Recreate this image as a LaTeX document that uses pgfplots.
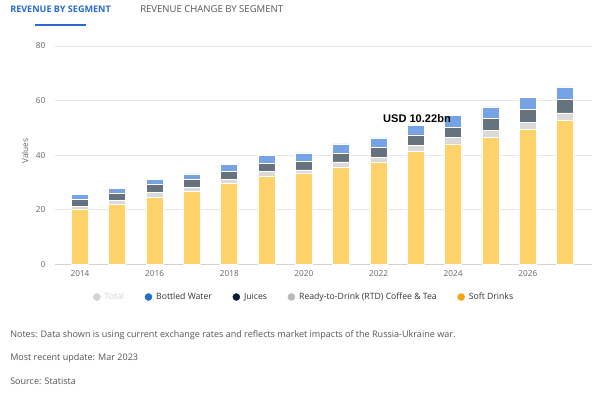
\documentclass[border=0pt]{standalone}
\usepackage{pgfplots}
\pgfplotsset{compat=1.18}
\usepackage{pgfplotstable}
\usepackage{fontspec}
\setmainfont{Open Sans}
\newfontfamily\labfont{Liberation Sans}
\definecolor{softc}{HTML}{FFD26A}
\definecolor{rtdc}{HTML}{DADADA}
\definecolor{juic}{HTML}{66737F}
\definecolor{watc}{HTML}{75A3E6}
\definecolor{lgTotal}{HTML}{D3D3D3}
\definecolor{lgWater}{HTML}{1F6ED4}
\definecolor{lgJuice}{HTML}{0E1C36}
\definecolor{lgRTD}{HTML}{B9B9B9}
\definecolor{lgSoft}{HTML}{F5A70F}
\definecolor{tabblue}{HTML}{2A6ACF}
\definecolor{tabgray}{HTML}{555555}
\definecolor{ticklab}{HTML}{666666}
\definecolor{gridc}{HTML}{E8E8E8}
\definecolor{notec}{HTML}{555555}

\pgfplotstableread{
year soft rtd juices water
2014 20.3 1.0 2.6 1.7
2015 22.0 1.4 2.7 1.8
2016 24.6 1.7 2.9 1.8
2017 26.8 1.5 2.7 2.1
2018 29.5 1.5 3.0 2.7
2019 32.4 1.6 3.0 2.9
2020 33.2 1.4 3.1 3.1
2021 35.5 2.0 3.3 3.3
2022 37.5 1.8 3.5 3.5
2023 41.4 2.1 3.9 3.5
2024 44.1 2.4 3.8 4.2
2025 46.5 2.6 4.4 4.2
2026 49.3 2.6 4.9 4.5
2027 52.6 2.9 4.8 4.7
}\segdata

\begin{document}
\begin{tikzpicture}[x=0.75pt,y=0.75pt]
\fill[white] (0,0) rectangle (600,-394);
\useasboundingbox (0,0) rectangle (600,-394);
% tabs
\node[anchor=west, inner sep=0pt, font=\fontsize{6.8}{8}\selectfont\bfseries, text=tabblue] at (10,-9) {REVENUE BY SEGMENT};
\node[anchor=west, inner sep=0pt, font=\fontsize{7.15}{8}\selectfont, text=tabgray] at (140,-9) {REVENUE CHANGE BY SEGMENT};
\draw[tabblue, line width=1.5pt] (35,-24.5) -- (86,-24.5);
\begin{axis}[
  at={(41.25pt,-198.225pt)}, anchor=south west,
  scale only axis, width=402.75pt, height=163.725pt,
  xmin=2013.33, xmax=2027.72, ymin=0, ymax=80,
  ybar stacked, bar width=12.75pt,
  axis x line*=bottom, axis y line*=left,
  x axis line style={draw=gridc!80!gray, line width=0.6pt, -},
  y axis line style={draw=none},
  ymajorgrids, grid style={gridc, line width=0.5pt},
  major tick length=0pt,
  xtick={2014,2016,2018,2020,2022,2024,2026},
  ytick={0,20,40,60,80},
  /pgf/number format/assume math mode=true,
  xticklabel style={/pgf/number format/1000 sep={}, font=\fontsize{6.2}{7}\selectfont, text=ticklab, inner sep=0pt, yshift=-4.5pt},
  yticklabel style={font=\fontsize{6.2}{7}\selectfont, text=ticklab, inner sep=0pt, xshift=-7pt},
  ylabel={Values},
  ylabel style={at={(axis description cs:-0.0559,0.519)}, anchor=center, font=\fontsize{6.2}{7}\selectfont, text=ticklab},
  legend style={at={(axis description cs:0.4646,-0.1498)}, anchor=center, draw=none, fill=none,
    font=\fontsize{6.5}{7}\selectfont, text=black!80,
    /tikz/every even column/.append style={column sep=13.5pt},
    /tikz/every odd column/.append style={column sep=1pt}},
  legend columns=5,
  legend image code/.code={\fill[#1] (0pt,0pt) circle (2.6pt);},
  clip=false,
]
\addplot[fill=softc, draw=white, line width=0.5pt, forget plot] table[x=year, y=soft] {\segdata};
\addplot[fill=rtdc, draw=white, line width=0.5pt, forget plot] table[x=year, y=rtd] {\segdata};
\addplot[fill=juic, draw=white, line width=0.5pt, forget plot] table[x=year, y=juices] {\segdata};
\addplot[fill=watc, draw=white, line width=0.5pt, forget plot] table[x=year, y=water] {\segdata};
\addlegendimage{lgTotal}
\addlegendentry{\textcolor{lgTotal}{Total}}
\addlegendimage{lgWater}
\addlegendentry{Bottled Water}
\addlegendimage{lgJuice}
\addlegendentry{Juices}
\addlegendimage{lgRTD}
\addlegendentry{Ready-to-Drink (RTD) Coffee \& Tea}
\addlegendimage{lgSoft}
\addlegendentry{Soft Drinks}
\coordinate (lab) at (axis cs:2023.03,53.4);
\end{axis}
\node[font=\labfont\bfseries\fontsize{8.3}{9}\selectfont, text=black, inner sep=0pt] at (lab) {USD 10.22bn};
% notes
\node[anchor=west, inner sep=0pt, font=\fontsize{6.78}{8}\selectfont, text=notec] at (10,-335) {Notes: Data shown is using current exchange rates and reflects market impacts of the Russia-Ukraine war.};
\node[anchor=west, inner sep=0pt, font=\fontsize{6.78}{8}\selectfont, text=notec] at (10,-357.7) {Most recent update: Mar 2023};
\node[anchor=west, inner sep=0pt, font=\fontsize{6.78}{8}\selectfont, text=notec] at (10,-381) {Source: Statista};
\end{tikzpicture}
\end{document}
